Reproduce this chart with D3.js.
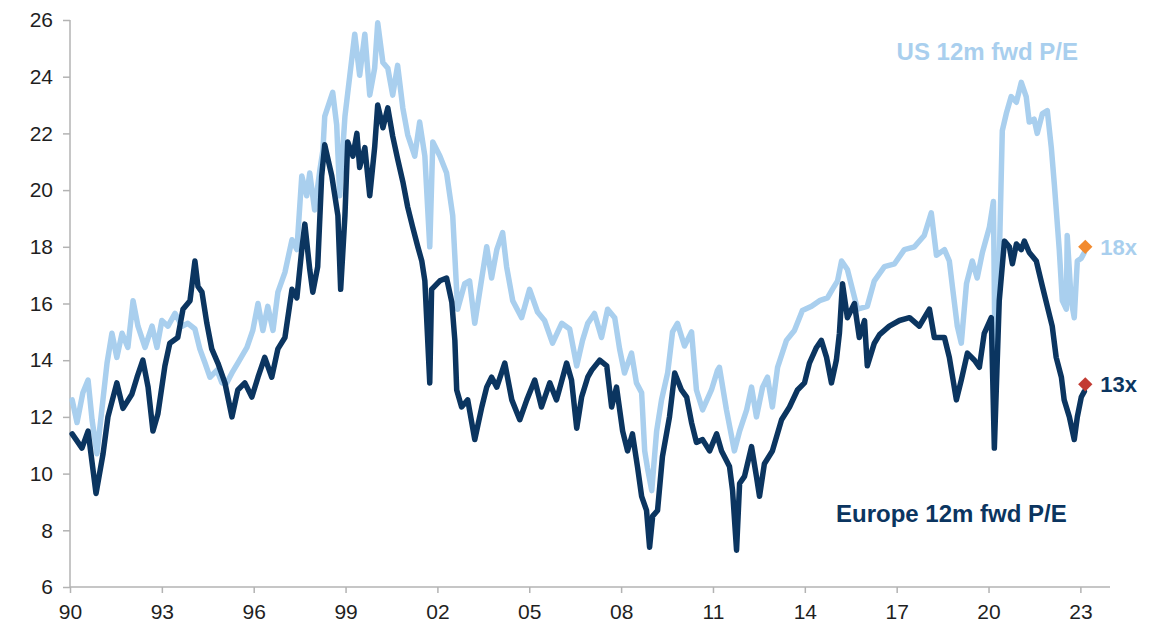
<!DOCTYPE html>
<html>
<head>
<meta charset="utf-8">
<script src="https://cdn.jsdelivr.net/npm/d3@7"></script>
<style>
  body { margin: 0; background: #fff; }
  svg { display: block; font-family: "Liberation Sans", Arial, sans-serif; }
  .axis path, .axis line { stroke: #b3b3b3; stroke-width: 1.5; }
  .axis text { fill: #1f1f1f; font-size: 21px; }
  .kreska { fill: none; stroke-width: 5.5; stroke-linejoin: round; stroke-linecap: round; }
</style>
</head>
<body>
<div id="rys"></div>
<script>
// US 12m fwd P/E (decimal year, value)
var usYears = [1990.07,1990.23,1990.42,1990.59,1990.72,1990.88,1991.04,1991.21,1991.37,1991.53,1991.70,1991.89,
  1992.06,1992.22,1992.45,1992.68,1992.84,1993.00,1993.20,1993.43,1993.66,1993.85,1994.08,1994.24,1994.41,1994.57,
  1994.80,1994.96,1995.12,1995.29,1995.48,1995.78,1995.97,1996.14,1996.30,1996.46,1996.63,1996.79,1997.02,1997.25,
  1997.41,1997.57,1997.73,1997.83,1997.99,1998.16,1998.26,1998.32,1998.58,1998.71,1998.81,1998.98,1999.14,1999.30,
  1999.46,1999.63,1999.79,1999.95,2000.05,2000.22,2000.38,2000.54,2000.70,2000.87,2001.03,2001.26,2001.42,2001.59,
  2001.75,2001.85,2002.08,2002.30,2002.50,2002.66,2002.89,2003.05,2003.22,2003.45,2003.61,2003.77,2003.94,2004.13,
  2004.26,2004.46,2004.75,2005.01,2005.27,2005.50,2005.76,2006.06,2006.32,2006.55,2006.74,2006.91,2007.13,2007.36,
  2007.56,2007.79,2007.95,2008.11,2008.34,2008.50,2008.67,2008.77,2008.86,2009.00,2009.16,2009.32,2009.52,2009.68,
  2009.84,2010.07,2010.30,2010.46,2010.66,2010.95,2011.15,2011.21,2011.44,2011.70,2011.87,2012.10,2012.26,2012.42,
  2012.62,2012.78,2012.94,2013.11,2013.40,2013.66,2013.92,2014.22,2014.48,2014.74,2014.90,2015.07,2015.20,2015.39,
  2015.72,2016.04,2016.27,2016.60,2016.93,2017.25,2017.58,2017.90,2018.13,2018.30,2018.56,2018.72,2018.82,2018.98,
  2019.11,2019.28,2019.47,2019.63,2019.80,2020.03,2020.16,2020.22,2020.35,2020.45,2020.58,2020.74,2020.91,2021.07,
  2021.23,2021.33,2021.49,2021.59,2021.76,2021.92,2022.05,2022.15,2022.31,2022.41,2022.54,2022.57,2022.70,2022.80,
  2022.90,2023.03,2023.13];
var usPE = [12.6,11.8,12.85,13.3,11.9,10.7,12.25,13.9,14.95,14.1,14.95,14.45,
  16.1,15.2,14.45,15.2,14.45,15.4,15.2,15.65,15.2,15.3,15.1,14.4,13.9,13.4,
  13.65,13.2,13.2,13.55,13.9,14.45,15.05,16.0,15.05,15.9,15.05,16.4,17.1,18.25,
  17.9,20.5,19.8,20.6,19.3,20.7,21.4,22.6,23.45,22.3,19.8,22.6,24.05,25.5,
  24.05,25.5,23.35,24.3,25.9,24.5,24.3,23.35,24.4,22.9,21.95,21.2,22.4,21.2,
  18.0,21.7,21.2,20.6,19.1,15.8,16.7,16.8,15.3,16.9,18.0,16.9,17.9,18.5,
  17.3,16.1,15.5,16.5,15.7,15.4,14.6,15.3,15.1,13.8,14.7,15.3,15.65,14.8,
  15.8,15.5,14.4,13.55,14.25,13.2,12.85,10.8,10.2,9.4,11.5,12.6,13.55,15.0,
  15.3,14.5,15.0,12.95,12.25,12.95,13.65,13.75,12.25,10.8,11.5,12.25,13.05,12.0,
  13.05,13.4,12.35,13.75,14.7,15.05,15.75,15.9,16.1,16.2,16.5,16.8,17.5,17.2,
  15.8,15.9,16.8,17.3,17.4,17.9,18.0,18.4,19.2,17.7,17.9,17.5,16.6,15.2,
  14.6,16.7,17.5,16.9,17.8,18.7,19.6,13.2,17.5,22.1,22.7,23.3,23.1,23.8,
  23.3,22.4,22.5,22.0,22.7,22.8,21.5,20.2,17.9,16.1,15.8,18.4,16.1,15.5,
  17.5,17.6,17.8];

// Europe 12m fwd P/E
var euYears = [1990.07,1990.39,1990.59,1990.85,1991.08,1991.24,1991.53,1991.73,1992.02,1992.19,1992.38,1992.55,
  1992.71,1992.87,1993.10,1993.26,1993.52,1993.69,1993.92,1994.08,1994.18,1994.31,1994.47,1994.63,1994.83,1995.06,
  1995.29,1995.48,1995.71,1995.94,1996.14,1996.36,1996.59,1996.79,1997.02,1997.25,1997.41,1997.57,1997.67,1997.83,
  1997.93,1998.09,1998.22,1998.32,1998.55,1998.75,1998.84,1998.98,1999.07,1999.24,1999.37,1999.46,1999.63,1999.79,
  1999.95,2000.05,2000.22,2000.38,2000.54,2000.70,2000.87,2001.03,2001.19,2001.36,2001.49,2001.59,2001.75,2001.81,
  2002.08,2002.30,2002.47,2002.57,2002.63,2002.79,2002.99,2003.22,2003.45,2003.61,2003.77,2003.94,2004.20,2004.43,
  2004.69,2004.92,2005.18,2005.40,2005.67,2005.89,2006.22,2006.38,2006.55,2006.71,2006.91,2007.04,2007.30,2007.53,
  2007.69,2007.85,2008.05,2008.21,2008.37,2008.54,2008.67,2008.83,2008.93,2009.03,2009.19,2009.35,2009.58,2009.75,
  2009.97,2010.14,2010.30,2010.46,2010.66,2010.89,2011.12,2011.28,2011.54,2011.64,2011.77,2011.87,2012.03,2012.26,
  2012.42,2012.52,2012.68,2012.94,2013.24,2013.50,2013.76,2013.99,2014.15,2014.38,2014.54,2014.71,2014.87,2015.03,
  2015.13,2015.23,2015.39,2015.62,2015.78,2015.95,2016.04,2016.27,2016.44,2016.76,2017.09,2017.42,2017.74,2018.07,
  2018.23,2018.56,2018.72,2018.95,2019.11,2019.31,2019.54,2019.70,2019.86,2020.09,2020.19,2020.35,2020.52,2020.68,
  2020.78,2020.91,2021.07,2021.17,2021.33,2021.56,2021.76,2021.92,2022.08,2022.21,2022.38,2022.47,2022.64,2022.80,
  2022.90,2023.03,2023.13];
var euPE = [11.4,10.9,11.5,9.3,10.7,12.0,13.2,12.3,12.8,13.4,14.0,13.05,
  11.5,12.1,13.8,14.6,14.8,15.8,16.1,17.5,16.6,16.4,15.3,14.4,13.9,13.2,
  12.0,12.95,13.2,12.7,13.4,14.1,13.4,14.4,14.8,16.5,16.2,17.9,18.8,17.2,
  16.4,17.3,20.5,21.6,20.5,19.1,16.5,19.1,21.7,21.2,22.0,20.8,21.5,19.8,
  21.5,23.0,22.2,22.9,21.9,21.1,20.3,19.4,18.7,18.0,17.5,16.8,13.2,16.5,
  16.8,16.9,16.05,14.7,12.95,12.35,12.6,11.2,12.35,13.05,13.4,13.05,13.9,12.6,
  11.9,12.6,13.3,12.35,13.2,12.6,13.9,13.3,11.6,12.7,13.4,13.65,14.0,13.8,
  12.35,13.05,11.5,10.8,11.4,10.2,9.2,8.7,7.4,8.5,8.7,10.6,12.0,13.55,
  12.95,12.7,11.8,11.1,11.2,10.8,11.4,10.8,10.25,9.4,7.3,9.65,9.9,10.95,
  9.9,9.2,10.35,10.8,11.9,12.35,12.95,13.2,13.9,14.45,14.7,14.1,13.2,14.0,
  14.95,16.7,15.5,16.0,14.8,15.4,13.8,14.6,14.9,15.2,15.4,15.5,15.2,15.8,
  14.8,14.8,14.1,12.6,13.3,14.25,14.0,13.75,14.95,15.5,10.9,16.1,18.2,18.0,
  17.4,18.1,17.9,18.2,17.8,17.5,16.6,15.9,15.2,14.1,13.4,12.6,12.0,11.2,
  12.0,12.7,12.9];

var yTicks = [6, 8, 10, 12, 14, 16, 18, 20, 22, 24, 26];
var xTicks = [1990, 1993, 1996, 1999, 2002, 2005, 2008, 2011, 2014, 2017, 2020, 2023];
var lastPoints = [
  { name: "US", year: 2023.16, value: 18.0, label: "18x", marker: "#f28a2e", text: "#a9cfee" },
  { name: "Europe", year: 2023.16, value: 13.15, label: "13x", marker: "#c23b33", text: "#0b3560" }
];

var width = 1168, height = 624;
var svg = d3.select("#rys").append("svg")
  .attr("width", width)
  .attr("height", height);

var x = d3.scaleLinear().domain([1990, 2024]).range([70, 1111]);
var y = d3.scaleLinear().domain([6, 26]).range([587, 20]);

svg.append("g")
  .attr("class", "axis")
  .attr("transform", "translate(70,0)")
  .call(d3.axisLeft(y).tickValues(yTicks).tickSize(7).tickSizeOuter(0).tickPadding(10))
  .call(g => g.select(".domain").attr("d", "M0," + y(26) + "V" + y(6)));

svg.append("g")
  .attr("class", "axis")
  .attr("transform", "translate(0,587)")
  .call(d3.axisBottom(x).tickValues(xTicks).tickSize(6).tickSizeOuter(0).tickPadding(11)
    .tickFormat(d => String(d % 100).padStart(2, "0")))
  .call(g => g.select(".domain").attr("d", "M70,0H1110"));

var line = d3.line()
  .x(d => x(d[0]))
  .y(d => y(d[1]));

svg.append("path")
  .datum(d3.zip(usYears, usPE))
  .attr("class", "kreska")
  .attr("stroke", "#a9cfee")
  .attr("d", line);

svg.append("path")
  .datum(d3.zip(euYears, euPE))
  .attr("class", "kreska")
  .attr("stroke", "#0b3560")
  .attr("d", line);

// last-value diamonds
svg.append("g").selectAll("path")
  .data(lastPoints)
  .enter().append("path")
  .attr("transform", d => "translate(" + x(d.year) + "," + y(d.value) + ")")
  .attr("d", d3.symbol().type(d3.symbolDiamond2).size(130))
  .attr("fill", d => d.marker);

svg.append("g").selectAll("text")
  .data(lastPoints)
  .enter().append("text")
  .attr("x", x(2023.16) + 15)
  .attr("y", d => y(d.value) + 8)
  .attr("fill", d => d.text)
  .attr("font-size", "22px")
  .attr("font-weight", "bold")
  .text(d => d.label);

// series labels
svg.append("text")
  .attr("x", 1078).attr("y", 60)
  .attr("text-anchor", "end")
  .attr("fill", "#a9cfee")
  .attr("font-size", "24px")
  .attr("font-weight", "bold")
  .text("US 12m fwd P/E");

svg.append("text")
  .attr("x", 836).attr("y", 522)
  .attr("fill", "#0b3560")
  .attr("font-size", "24px")
  .attr("font-weight", "bold")
  .text("Europe 12m fwd P/E");
</script>
</body>
</html>
